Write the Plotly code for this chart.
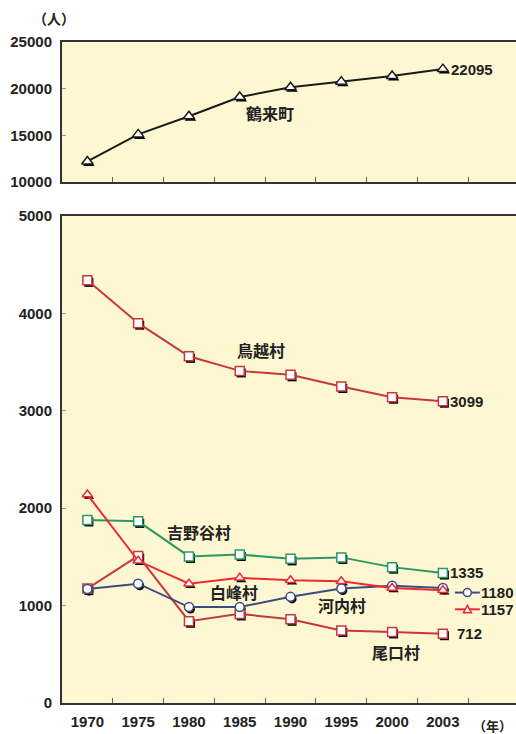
import plotly.graph_objects as go

# ---- data ----
years = ["1970", "1975", "1980", "1985", "1990", "1995", "2000", "2003"]
tsurugi = [12200, 15100, 17050, 19100, 20150, 20750, 21350, 22095]      # 鶴来町
torigoe = [4340, 3900, 3560, 3410, 3370, 3250, 3140, 3099]              # 鳥越村
yoshinodani = [1880, 1865, 1505, 1525, 1480, 1495, 1395, 1335]          # 吉野谷村
shiramine = [2140, 1460, 1225, 1285, 1260, 1250, 1180, 1157]            # 白峰村 (triangle)
kawachi = [1170, 1225, 985, 985, 1090, 1175, 1205, 1180]                # 河内村 (circle)
oguchi = [1175, 1510, 840, 915, 860, 745, 730, 712]                     # 尾口村

idx = list(range(len(years)))

C_DARKRED = "#c8373d"
C_RED = "#ee2a30"
C_GREEN = "#2f9663"
C_BLUE = "#3c4a86"
C_BLACK = "#1a1a1a"
BG = "#fdf8d2"

CJK = "Noto Sans CJK JP"
NUM = "Liberation Sans"

fig = go.Figure()

XR = [-0.5, 8.44]
SHX = 0.03          # shadow offset (data units, ~1.5px)


def add_series(vals, color, symbol, size, top=False):
    sx, sy, mx, my = ("x4", "y4", "x6", "y6") if top else ("x3", "y3", "x5", "y5")
    fig.add_trace(go.Scatter(
        x=idx, y=vals, mode="markers",
        marker=dict(symbol=symbol, size=size, color="black"),
        xaxis=sx, yaxis=sy, hoverinfo="skip", showlegend=False))
    fig.add_trace(go.Scatter(
        x=idx, y=vals, mode="lines+markers",
        line=dict(color=color, width=2),
        marker=dict(symbol=symbol, size=size, color="white",
                    line=dict(color=color, width=1.5)),
        xaxis=mx, yaxis=my, showlegend=False))


add_series(tsurugi, C_BLACK, "triangle-up", 10, top=True)
add_series(torigoe, C_DARKRED, "square", 9)
add_series(yoshinodani, C_GREEN, "square", 9)
add_series(oguchi, C_DARKRED, "square", 9)
add_series(kawachi, C_BLUE, "circle", 9)
add_series(shiramine, C_RED, "triangle-up", 9)

tickfont = dict(family=NUM, size=15, color="#222", weight="bold")
axline = dict(showline=True, linecolor="#333", linewidth=2, showgrid=False, zeroline=False)
minor = dict(tickmode="array", tickvals=[i + 0.5 for i in idx], ticks="inside",
             ticklen=5, tickcolor="#666", tickwidth=1, showgrid=False)

ydom_bot = [0.0, 0.713]
ydom_top = [0.7628, 0.9678]

layout_axes = dict(
    xaxis=dict(range=XR, anchor="y", tickmode="array", tickvals=idx, ticktext=years,
               ticks="", mirror=True, minor=minor, tickfont=tickfont,
               ticklabelstandoff=4, **axline),
    yaxis=dict(domain=ydom_bot, range=[0, 5000], tick0=0, dtick=1000, ticks="inside",
               ticklen=4, tickcolor="#999", tickfont=tickfont, tickformat="d",
               ticklabelstandoff=5, anchor="x", **axline),
    xaxis2=dict(range=XR, anchor="y2", tickmode="array", tickvals=idx, ticktext=years,
                showticklabels=False, ticks="", mirror=True, minor=minor, **axline),
    yaxis2=dict(domain=ydom_top, range=[10000, 25000], tick0=10000, dtick=5000,
                ticks="inside", ticklen=4, tickcolor="#999", tickfont=tickfont,
                tickformat="d", ticklabelstandoff=5, anchor="x2", **axline),
    # shadow layers
    xaxis3=dict(overlaying="x", anchor="y3", range=[XR[0] - SHX, XR[1] - SHX], visible=False),
    yaxis3=dict(overlaying="y", anchor="x3", range=[0 + 21, 5000 + 21], visible=False),
    xaxis4=dict(overlaying="x2", anchor="y4", range=[XR[0] - SHX, XR[1] - SHX], visible=False),
    yaxis4=dict(overlaying="y2", anchor="x4", range=[10000 + 215, 25000 + 215], visible=False),
    # main layers
    xaxis5=dict(overlaying="x", anchor="y5", range=XR, visible=False),
    yaxis5=dict(overlaying="y", anchor="x5", range=[0, 5000], visible=False),
    xaxis6=dict(overlaying="x2", anchor="y6", range=XR, visible=False),
    yaxis6=dict(overlaying="y2", anchor="x6", range=[10000, 25000], visible=False),
)

cjk_font = dict(family=CJK, size=16, color="#222", weight="bold")
num_font = dict(family=NUM, size=15, color="#222", weight="bold")

ann = []
# series name labels
ann.append(dict(text="鶴来町", x=3.6, y=17400, xref="x2", yref="y2", font=cjk_font, showarrow=False))
ann.append(dict(text="鳥越村", x=3.41, y=3620, xref="x", yref="y", font=cjk_font, showarrow=False))
ann.append(dict(text="吉野谷村", x=2.19, y=1756, xref="x", yref="y", font=cjk_font, showarrow=False))
ann.append(dict(text="白峰村", x=2.89, y=1137, xref="x", yref="y", font=cjk_font, showarrow=False))
ann.append(dict(text="河内村", x=5.02, y=1003, xref="x", yref="y", font=cjk_font, showarrow=False))
ann.append(dict(text="尾口村", x=6.08, y=524, xref="x", yref="y", font=cjk_font, showarrow=False))

last = idx[-1]
ann.append(dict(text=f"{tsurugi[-1]}", x=last, y=tsurugi[-1], xref="x2", yref="y2",
                xanchor="left", xshift=6, font=num_font, showarrow=False))
ann.append(dict(text=f"{torigoe[-1]}", x=last, y=torigoe[-1], xref="x", yref="y",
                xanchor="left", xshift=5, font=num_font, showarrow=False))
ann.append(dict(text=f"{yoshinodani[-1]}", x=last, y=yoshinodani[-1], xref="x", yref="y",
                xanchor="left", xshift=5, font=num_font, showarrow=False))
ann.append(dict(text=f"{oguchi[-1]}", x=last, y=oguchi[-1], xref="x", yref="y",
                xanchor="left", xshift=12, font=num_font, showarrow=False))

# legend-like keys: text next to small key glyphs drawn as shapes
KEY_DY1, KEY_DY2 = -4.5, -19      # pixel offsets of the two key rows from the end points
ann.append(dict(text=f"{kawachi[-1]}", x=last, y=kawachi[-1], xref="x", yref="y",
                yshift=KEY_DY1, xanchor="left", xshift=36, font=num_font, showarrow=False))
ann.append(dict(text=f"{shiramine[-1]}", x=last, y=shiramine[-1], xref="x", yref="y",
                yshift=KEY_DY2, xanchor="left", xshift=36, font=num_font, showarrow=False))

shapes = []
common = dict(xref="x", yref="y", xsizemode="pixel", ysizemode="pixel", xanchor=last, layer="above")
# circle key
shapes.append(dict(type="line", yanchor=kawachi[-1], x0=12, x1=37, y0=KEY_DY1, y1=KEY_DY1,
                   line=dict(color=C_BLUE, width=2), **common))
shapes.append(dict(type="circle", yanchor=kawachi[-1], x0=20.5, x1=28.5,
                   y0=KEY_DY1 - 4, y1=KEY_DY1 + 4, fillcolor="white",
                   line=dict(color=C_BLUE, width=1.5), **common))
# triangle key
shapes.append(dict(type="line", yanchor=shiramine[-1], x0=12, x1=37, y0=KEY_DY2, y1=KEY_DY2,
                   line=dict(color=C_RED, width=2), **common))
shapes.append(dict(type="path", yanchor=shiramine[-1],
                   path=f"M20.5,{KEY_DY2 - 3.5} L28.5,{KEY_DY2 - 3.5} L24.5,{KEY_DY2 + 4} Z",
                   fillcolor="white", line=dict(color=C_RED, width=1.5), **common))

# unit labels (positions in pixels, converted to paper fractions)
W, H = 516, 734
ML, MR, MT, MB = 62, 0, 20, 31


def px2paper(px, py):
    return (px - ML) / (W - ML - MR), (H - py - MB) / (H - MT - MB)


ux, uy = px2paper(54, 18)
ann.append(dict(text="（人）", x=ux, y=uy, xref="paper", yref="paper", showarrow=False,
                xanchor="center", yanchor="middle",
                font=dict(family=CJK, size=14, color="#222", weight="bold")))
yx, yy = px2paper(492, 725)
ann.append(dict(text="（年）", x=yx, y=yy, xref="paper", yref="paper", showarrow=False,
                xanchor="center", yanchor="middle",
                font=dict(family=CJK, size=13, color="#222", weight="bold")))

fig.update_layout(
    width=W, height=H,
    margin=dict(l=ML, r=MR, t=MT, b=MB),
    plot_bgcolor=BG, paper_bgcolor="white",
    annotations=ann, shapes=shapes,
    showlegend=False,
    **layout_axes,
)

fig.write_html("out.html")
